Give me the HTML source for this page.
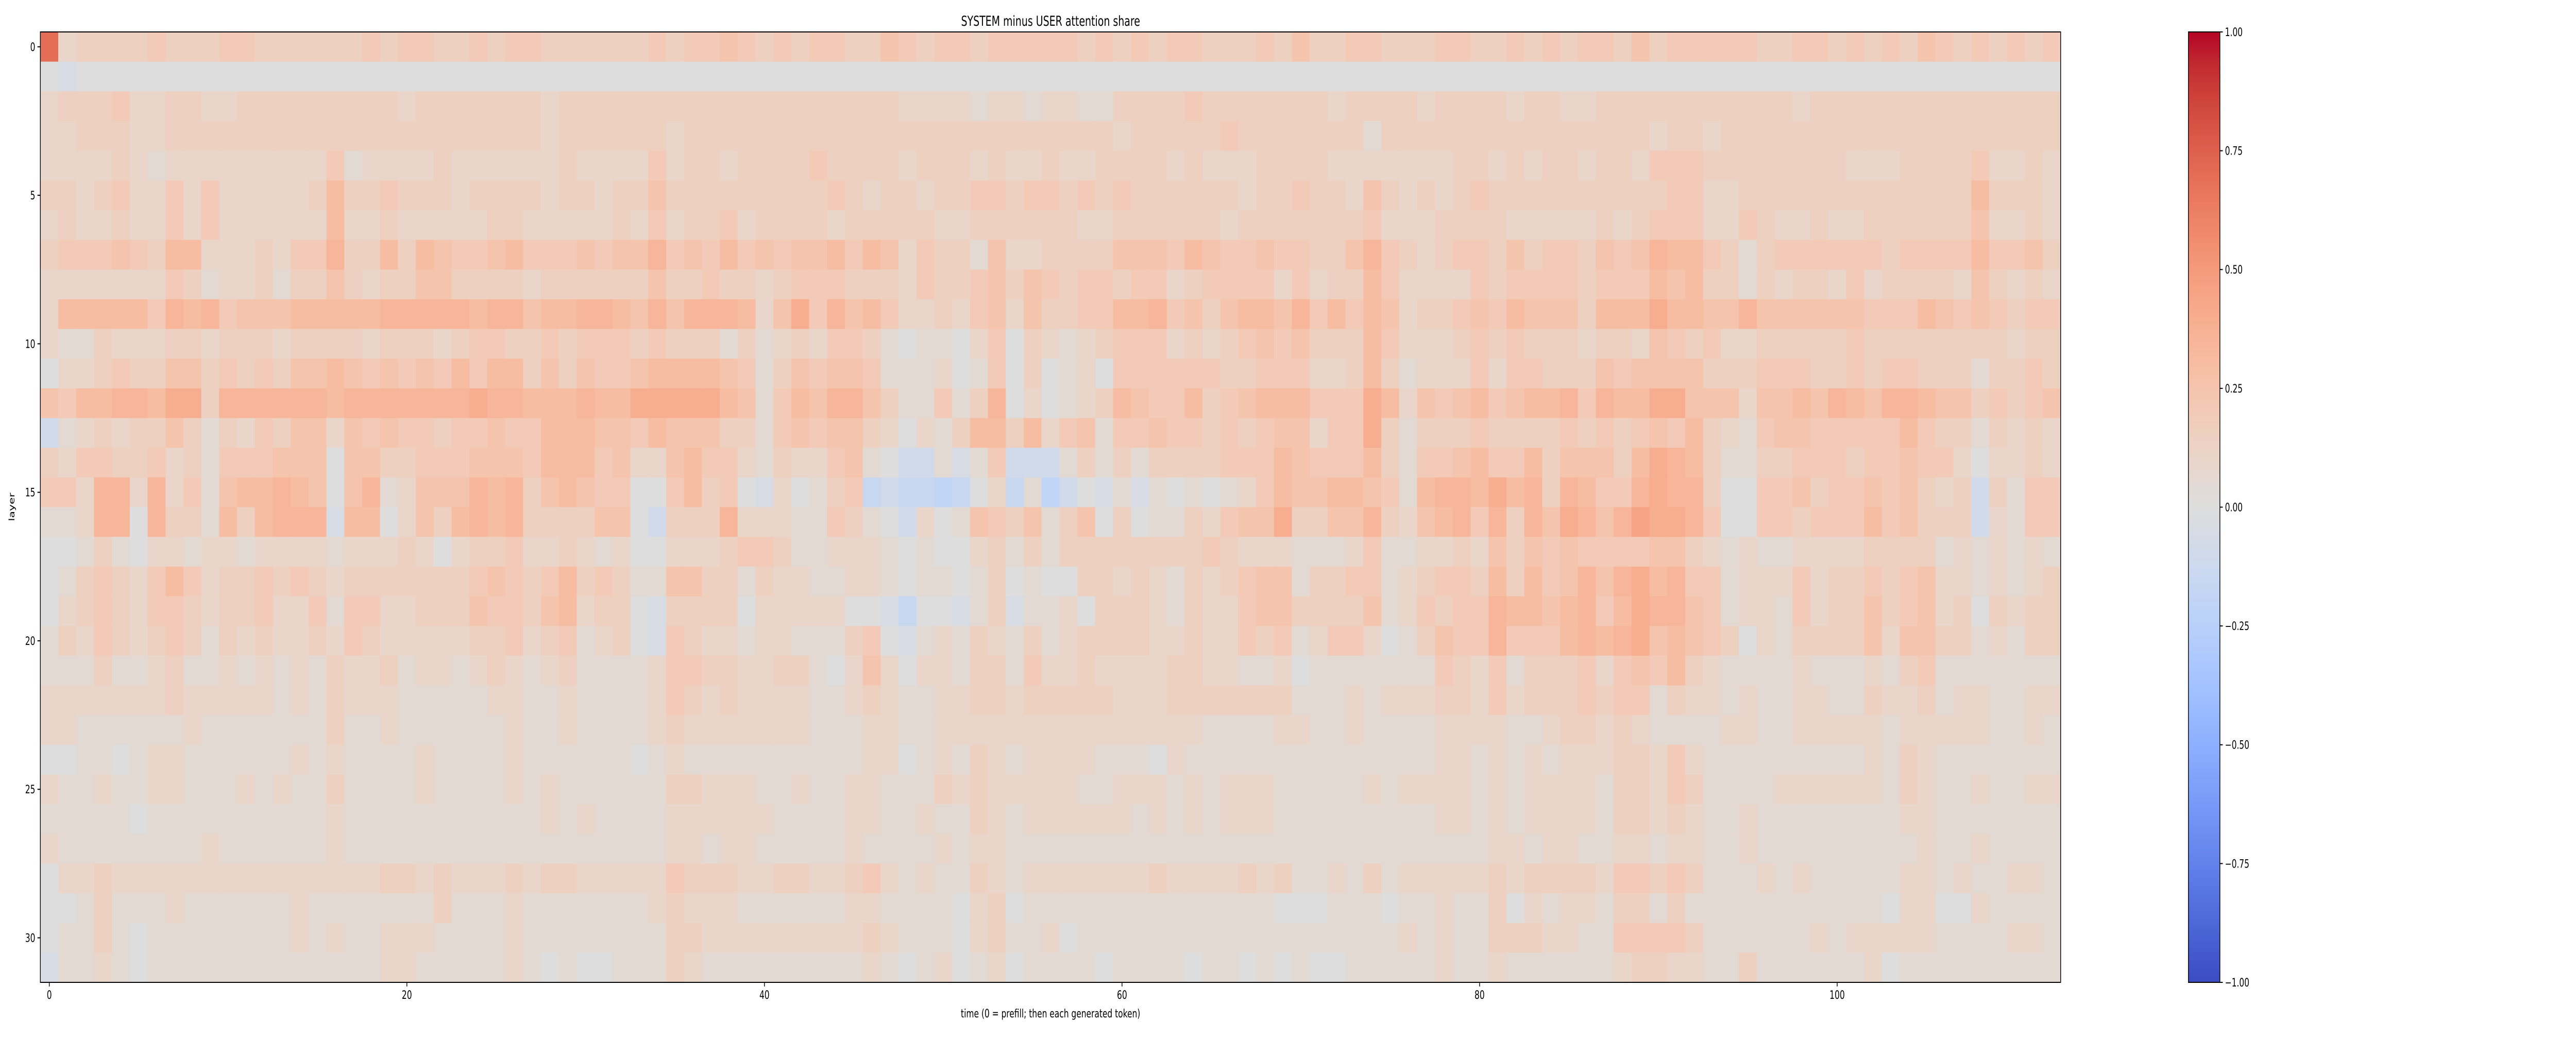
<!DOCTYPE html>
<html><head><meta charset="utf-8"><style>
html,body{margin:0;padding:0;background:#fff;width:100vw;height:100vh;overflow:hidden;}
svg{display:block;width:100vw;height:100vh;font-family:"DejaVu Sans","Liberation Sans",sans-serif;}
</style></head><body>
<svg id="fig" xmlns="http://www.w3.org/2000/svg" viewBox="0 0 7118 2015" preserveAspectRatio="none">
<defs><linearGradient id="cbgrad" x1="0" y1="1" x2="0" y2="0"></linearGradient></defs>
<text x="2903" y="50" font-size="27" text-anchor="middle">SYSTEM minus USER attention share</text>
<g id="cells"></g>
<rect x="111.5" y="62" width="5582.5" height="1845" fill="none" stroke="#000" stroke-width="2"/>
<g id="xticks"></g>
<g id="yticks"></g>
<text x="2903" y="1975" font-size="22" text-anchor="middle">time (0 = prefill; then each generated token)</text>
<text x="0" y="0" font-size="22" text-anchor="middle" transform="translate(40,984) rotate(-90)">layer</text>
<rect x="6047" y="62" width="87" height="1845" fill="url(#cbgrad)" stroke="#000" stroke-width="2"/>
<g id="cbticks"></g>
</svg>
<script>
// value codes per layer (rows) x time step (columns); whitespace ignored
const codeValues = {'a':-0.05,'b':-0.1,'c':-0.15,'d':-0.2,'0':0,'1':0.05,'2':0.1,'3':0.15,'4':0.2,'5':0.25,'6':0.3,'7':0.35,'8':0.4,'9':0.45,'A':0.5,'B':0.6,'C':0.7};
const layerRows = [
"C2333 34333 44333 33343 44334 344 33333 34344 54343 44335 434 43444 44343 43443 33435 334 43334 43343 43443 53444 443 34434 34354 34343 4",
"0a000 00000 00000 00000 00000 000 00000 00000 00000 00000 000 00000 00000 00000 00000 000 00000 00000 00000 00000 000 00000 00000 00000 0",
"23334 22332 23333 33333 23333 333 23333 33333 33333 33333 222 21221 22113 33343 33333 323 33323 33323 32233 33333 333 32333 33333 33333 3",
"22333 22333 33333 33333 33333 333 23333 33233 33333 33333 333 33333 33332 33333 43333 333 13333 33333 33333 32332 333 33333 33333 33333 3",
"22223 21222 22222 24122 22322 222 23222 24233 23333 43333 233 32322 32233 33232 22333 322 22222 33232 33233 24443 333 33332 22333 34223 2",
"33234 22424 22222 36334 33323 333 23323 35333 33333 34323 323 34434 43434 33333 32334 332 53232 34333 33333 33442 233 33333 33333 36333 2",
"23223 22424 22222 26223 22222 332 22223 24233 42333 32333 332 23333 33223 33333 23333 333 42223 33322 22232 34442 243 22322 33333 35223 2",
"34445 43662 22324 47336 36544 564 44545 57454 64545 56465 243 31522 33335 55465 44544 335 74323 44353 44354 57664 313 44444 43444 46445 3",
"22222 22431 22313 35323 35533 332 33333 35334 33234 44333 243 34535 43443 44234 44424 233 64222 24344 44344 46563 313 23324 23333 25323 2",
"26666 64767 45556 66667 77776 775 66776 57577 76258 47564 223 24525 33446 67453 56657 464 65233 45465 55366 68665 575 55555 44465 45434 4",
"21132 22332 33323 33323 33234 433 43444 34333 13123 24431 011 02403 21234 44232 34545 333 64222 34343 33233 25434 223 33334 33333 33323 3",
"02234 33553 43435 56545 45464 663 53544 56666 54135 45541 112 01403 01204 44444 33444 223 63122 24244 33354 55553 334 44334 34433 31334 3",
"54667 76883 77777 76777 77778 776 66766 88888 65146 57753 114 13702 01236 54463 45666 444 86254 56456 67476 68855 525 56576 57765 53434 5",
"b1232 33531 32435 52545 44344 544 66655 46555 33145 45532 021 36636 24514 45443 43455 244 83133 34333 34343 45463 214 55444 44643 31323 2",
"32443 34231 44455 50553 34445 554 66645 22564 42132 24510 bb1 a14bb b1313 13333 44465 444 63144 56446 35553 68763 113 34443 44544 20223 2",
"44277 27241 56676 50571 25557 673 56544 00463 40a20 134cb ccd c02c1 db0a1 a1010 12465 566 54167 76867 37644 78773 004 45344 54532 3b314 4",
"11277 07331 63677 7a660 25367 673 33355 0b333 72221 14310 b20 15435 13503 01132 45583 355 73256 74737 58757 98874 004 43444 64533 3b214 4",
"00131 02212 21222 21222 32023 342 23212 00222 34431 12221 010 02313 13333 33334 32221 112 41122 32535 45444 45532 121 12222 33331 21212 1",
"01343 24642 33434 32333 33334 543 46343 11553 31322 11221 011 01301 00332 32132 34551 334 41234 43636 45757 86744 122 24233 43452 21212 3",
"02343 24432 33422 41442 23335 443 56233 0a333 30222 2200a c00 a13a1 12033 32132 24553 333 51243 44766 56746 87754 122 14233 53452 30323 3",
"13243 23431 32322 32432 22223 342 34123 0a432 21221 11340 a12 13213 12333 32232 24341 244 20135 44744 46767 85654 302 13333 52553 31213 3",
"11131 12311 21212 13223 12212 321 23111 12443 32233 10252 022 13314 22322 22332 21120 111 11114 32413 33424 54632 111 12111 21341 11111 1",
"22222 22322 22212 13222 11111 221 12111 12432 32222 11232 112 23323 33332 22333 33331 112 12223 32423 33434 41322 121 12211 32231 22112 2",
"22111 11121 11111 13112 11111 121 12111 12322 22222 11122 112 22222 22222 22221 11122 112 11112 22211 23323 21111 221 12222 21222 22112 1",
"00110 12211 11112 12111 12111 121 11111 01211 11111 11122 012 13212 22211 10211 11111 111 11112 21212 12223 32421 111 11111 21321 11111 1",
"21121 12211 12121 13111 12111 121 21111 11332 22112 11221 113 23222 22112 22121 22211 111 21222 21212 22213 32431 111 22222 21321 12112 2",
"11111 01111 11111 12111 11111 111 21211 11222 22211 11221 121 13212 22222 12121 22211 111 11112 21212 22213 32321 121 11111 11221 11111 1",
"21111 11112 11111 12111 11111 111 11111 11221 22111 11211 112 12211 11111 11111 11111 111 11111 11221 22112 21221 121 11111 11121 12111 1",
"02232 22222 22222 22223 32322 232 33222 22433 32233 22342 121 13212 22222 23222 23231 121 31222 22323 33324 43431 112 12111 11221 21122 1",
"00131 11211 11112 11111 11311 121 11111 12322 21111 11221 111 02301 11111 11111 11100 011 10112 11302 12213 31311 111 11111 10220 02111 1",
"01131 01111 11112 12112 22111 121 11111 11332 22222 22232 111 02311 20111 11111 11111 111 11212 11333 22114 44431 111 11212 22221 11122 1",
"a1121 01111 11111 11112 21111 121 01001 11321 11111 11121 012 01201 11101 11101 10101 001 11112 11211 11112 33221 131 11111 20111 11111 1"
];
const xTickValues = [0, 20, 40, 60, 80, 100];
const yTickValues = [0, 5, 10, 15, 20, 25, 30];
const cbTickValues = [1.0, 0.75, 0.5, 0.25, 0.0, -0.25, -0.5, -0.75, -1.0];
const cbTickLabels = ["1.00", "0.75", "0.50", "0.25", "0.00", "\u22120.25", "\u22120.50", "\u22120.75", "\u22121.00"];

const NS = "http://www.w3.org/2000/svg";
const PL = 111.5, PT = 62, PW = 5582.5, PH = 1845;
const CB = {x: 6047, y: 62, w: 87, h: 1845};
const cm = [[59,76,192],[68,90,204],[77,104,215],[87,117,225],[98,130,234],[108,142,241],[119,154,247],[130,165,251],[141,176,254],[152,185,255],[163,194,255],[174,201,253],[184,208,249],[194,213,244],[204,217,238],[213,219,230],[221,221,221],[229,216,209],[236,211,197],[241,204,185],[245,196,173],[247,187,160],[247,177,148],[247,166,135],[244,154,123],[241,141,111],[236,127,99],[229,112,88],[222,96,77],[213,80,66],[203,62,56],[192,40,47],[180,4,38]];
function color(v){
  let t = (Math.max(-1, Math.min(1, v)) + 1) / 2 * (cm.length - 1);
  let i = Math.min(cm.length - 2, Math.floor(t)), f = t - i;
  const c = cm[i].map((a, k) => Math.round(a + (cm[i+1][k] - a) * f));
  return "rgb(" + c.join(",") + ")";
}
const grid = layerRows.map(r => r.replace(/\s+/g, "").split("").map(ch => codeValues[ch]));
const nRows = grid.length, nCols = 113;
const cw = PW / nCols, ch = PH / nRows;
const xOf = c => PL + c * cw;
const yOf = r => PT + r * ch;
const cells = document.getElementById("cells");
grid.forEach((row, r) => row.forEach((v, c) => {
  if (c >= nCols) return;
  const el = document.createElementNS(NS, "rect");
  el.setAttribute("x", xOf(c)); el.setAttribute("y", yOf(r));
  el.setAttribute("width", Math.min(cw + 0.6, PL + PW - xOf(c))); el.setAttribute("height", ch + 0.6);
  el.setAttribute("fill", color(v));
  
  
  cells.appendChild(el);
}));
function line(g, x1, y1, x2, y2){
  const l = document.createElementNS(NS, "line");
  l.setAttribute("x1", x1); l.setAttribute("y1", y1); l.setAttribute("x2", x2); l.setAttribute("y2", y2);
  l.setAttribute("stroke", "#000"); l.setAttribute("stroke-width", "2");
  
  
  g.appendChild(l);
}
function label(g, x, y, s, anchor){
  const t = document.createElementNS(NS, "text");
  t.setAttribute("x", x); t.setAttribute("y", y); t.setAttribute("font-size", "22");
  t.setAttribute("text-anchor", anchor); t.textContent = s;
  
  
  g.appendChild(t);
}
const gx = document.getElementById("xticks");
xTickValues.forEach(v => { const x = xOf(v + 0.5); line(gx, x, PT + PH, x, PT + PH + 8); label(gx, x, PT + PH + 32, String(v), "middle"); });
const gy = document.getElementById("yticks");
yTickValues.forEach(v => { const y = yOf(v + 0.5); line(gy, PL - 8, y, PL, y); label(gy, PL - 14, y + 8, String(v), "end"); });
const grad = document.getElementById("cbgrad");
cm.forEach((c, i) => { const s = document.createElementNS(NS, "stop"); s.setAttribute("offset", i / (cm.length - 1)); s.setAttribute("stop-color", "rgb(" + c.join(",") + ")"); grad.appendChild(s); });
const gc = document.getElementById("cbticks");
cbTickValues.forEach((v, i) => { const y = CB.y + (1 - (v + 1) / 2) * CB.h; line(gc, CB.x + CB.w, y, CB.x + CB.w + 8, y); label(gc, CB.x + CB.w + 14, y + 8, cbTickLabels[i], "start"); });
</script>
</body></html>
